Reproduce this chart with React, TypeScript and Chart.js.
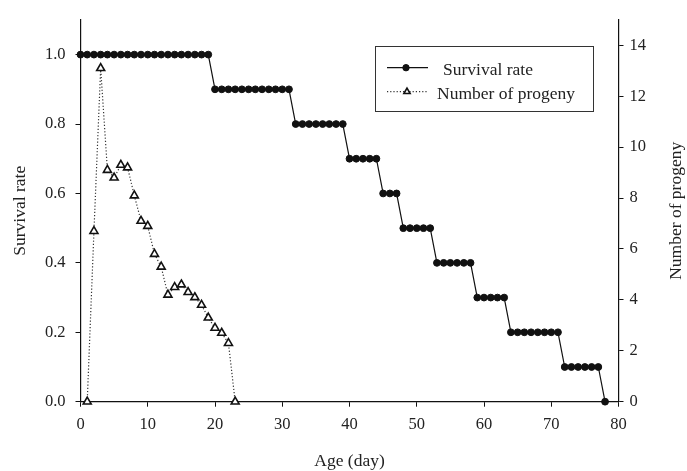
import React, { useEffect, useRef } from 'react';
import { Chart, registerables } from 'chart.js';

Chart.register(...registerables);

// ---- data ----
const survivalAges = [
  0, 1, 2, 3, 4, 5, 6, 7, 8, 9, 10, 11, 12, 13, 14, 15, 16, 17, 18, 19,
  20, 21, 22, 23, 24, 25, 26, 27, 28, 29, 30, 31, 32, 33, 34, 35, 36, 37, 38, 39,
  40, 41, 42, 43, 44, 45, 46, 47, 48, 49, 50, 51, 52, 53, 54, 55, 56, 57, 58, 59,
  60, 61, 62, 63, 64, 65, 66, 67, 68, 69, 70, 71, 72, 73, 74, 75, 76, 77, 78,
];
const survivalRate = [
  1, 1, 1, 1, 1, 1, 1, 1, 1, 1, 1, 1, 1, 1, 1, 1, 1, 1, 1, 1,
  0.9, 0.9, 0.9, 0.9, 0.9, 0.9, 0.9, 0.9, 0.9, 0.9, 0.9, 0.9,
  0.8, 0.8, 0.8, 0.8, 0.8, 0.8, 0.8, 0.8,
  0.7, 0.7, 0.7, 0.7, 0.7,
  0.6, 0.6, 0.6,
  0.5, 0.5, 0.5, 0.5, 0.5,
  0.4, 0.4, 0.4, 0.4, 0.4, 0.4,
  0.3, 0.3, 0.3, 0.3, 0.3,
  0.2, 0.2, 0.2, 0.2, 0.2, 0.2, 0.2, 0.2,
  0.1, 0.1, 0.1, 0.1, 0.1, 0.1,
  0,
];
const progenyAges = [1, 2, 3, 4, 5, 6, 7, 8, 9, 10, 11, 12, 13, 14, 15, 16, 17, 18, 19, 20, 21, 22, 23];
const progenyCount = [0, 6.7, 13.1, 9.1, 8.8, 9.3, 9.2, 8.1, 7.1, 6.9, 5.8, 5.3, 4.2, 4.5, 4.6, 4.3, 4.1, 3.8, 3.3, 2.9, 2.7, 2.3, 0];

const xAxisTitle = 'Age (day)';
const leftAxisTitle = 'Survival rate';
const rightAxisTitle = 'Number of progeny';
const survivalLabel = 'Survival rate';
const progenyLabel = 'Number of progeny';

const FONT = '"Liberation Serif", "Times New Roman", serif';
const TEXT = '#222';

const boxLegend = {
  id: 'boxLegend',
  afterDraw(chart: any, _args: any, opts: any) {
    const ctx = chart.ctx as CanvasRenderingContext2D;
    ctx.save();
    ctx.strokeStyle = '#333';
    ctx.lineWidth = 1;
    ctx.setLineDash([]);
    ctx.strokeRect(opts.x + 0.5, opts.y + 0.5, opts.w, opts.h);
    chart.data.datasets.forEach((ds: any, i: number) => {
      const it = opts.items[i];
      if (!it) return;
      ctx.beginPath();
      ctx.setLineDash(ds.borderDash || []);
      ctx.strokeStyle = ds.borderColor;
      ctx.lineWidth = ds.borderWidth;
      ctx.moveTo(it.lx1, it.ly);
      ctx.lineTo(it.lx2, it.ly);
      ctx.stroke();
      ctx.setLineDash([]);
      ctx.beginPath();
      if (ds.pointStyle === 'triangle') {
        const r = it.mr;
        ctx.moveTo(it.mx, it.ly - r);
        ctx.lineTo(it.mx + r * Math.sin((2 * Math.PI) / 3), it.ly - r * Math.cos((2 * Math.PI) / 3));
        ctx.lineTo(it.mx + r * Math.sin((4 * Math.PI) / 3), it.ly - r * Math.cos((4 * Math.PI) / 3));
        ctx.closePath();
      } else {
        ctx.arc(it.mx, it.ly, it.mr, 0, Math.PI * 2);
      }
      ctx.fillStyle = ds.pointBackgroundColor;
      ctx.fill();
      ctx.strokeStyle = ds.pointBorderColor;
      ctx.lineWidth = ds.pointBorderWidth;
      ctx.stroke();
      ctx.font = `17.5px ${FONT}`;
      ctx.fillStyle = TEXT;
      ctx.textBaseline = 'alphabetic';
      ctx.textAlign = 'left';
      ctx.fillText(ds.label, it.tx, it.ty);
    });

    // right axis title, reading bottom-to-top like the left one
    const area = chart.chartArea;
    ctx.save();
    ctx.translate(opts.rightTitleX, (area.top + area.bottom) / 2);
    ctx.rotate(-Math.PI / 2);
    ctx.font = `17.5px ${FONT}`;
    ctx.fillStyle = TEXT;
    ctx.textAlign = 'center';
    ctx.textBaseline = 'middle';
    ctx.fillText(opts.rightTitle, 0, 0);
    ctx.restore();

    ctx.restore();
  },
};

export default function App() {
  const ref = useRef<HTMLCanvasElement | null>(null);

  useEffect(() => {
    if (!ref.current) return;
    const chart = new Chart(ref.current, {
      type: 'line',
      data: {
        datasets: [
          {
            label: survivalLabel,
            data: survivalAges.map((a, i) => ({ x: a, y: survivalRate[i] })),
            yAxisID: 'y',
            borderColor: '#111',
            borderWidth: 1.2,
            pointStyle: 'circle',
            pointRadius: 3.4,
            pointBackgroundColor: '#111',
            pointBorderColor: '#111',
            pointBorderWidth: 1,
            tension: 0,
            clip: false,
          } as any,
          {
            label: progenyLabel,
            data: progenyAges.map((a, i) => ({ x: a, y: progenyCount[i] })),
            yAxisID: 'y1',
            borderColor: '#333',
            borderWidth: 1.2,
            borderDash: [1.2, 2],
            pointStyle: 'triangle',
            pointRadius: 4.6,
            pointBackgroundColor: '#fff',
            pointBorderColor: '#111',
            pointBorderWidth: 1.6,
            tension: 0,
            clip: false,
          } as any,
        ],
      },
      options: {
        responsive: true,
        maintainAspectRatio: false,
        animation: false,
        layout: { padding: { top: 16, left: 0, right: 0, bottom: 0 } },
        plugins: {
          legend: { display: false },
          tooltip: { enabled: false },
          boxLegend: {
            x: 375,
            y: 46,
            w: 218,
            h: 65,
            rightTitle: rightAxisTitle,
            rightTitleX: 676,
            items: [
              { lx1: 387, lx2: 428, ly: 67.7, mx: 406, mr: 3.2, tx: 443, ty: 74.5 },
              { lx1: 387, lx2: 428, ly: 91.7, mx: 407, mr: 3.6, tx: 437, ty: 98.5 },
            ],
          },
        } as any,
        scales: {
          x: {
            type: 'linear',
            min: 0,
            max: 80,
            afterFit: (s: any) => {
              s.height = 69.3;
            },
            ticks: {
              stepSize: 10,
              color: TEXT,
              font: { family: FONT, size: 16.5 },
              padding: 8,
              maxRotation: 0,
            },
            grid: { drawOnChartArea: false, drawTicks: true, tickLength: 5, color: '#111' },
            border: { display: true, color: '#111', width: 1.2 },
            title: {
              display: true,
              text: xAxisTitle,
              color: TEXT,
              font: { family: FONT, size: 17.5, lineHeight: 1 },
              padding: { top: 0, bottom: 0.5 },
            },
          },
          y: {
            type: 'linear',
            position: 'left',
            min: 0,
            max: 1.1,
            afterFit: (s: any) => {
              s.width = 80.5;
            },
            ticks: {
              stepSize: 0.2,
              includeBounds: false,
              color: TEXT,
              font: { family: FONT, size: 16.5 },
              padding: 10,
              callback: (v: any) => Number(v).toFixed(1),
            },
            grid: { drawOnChartArea: false, drawTicks: true, tickLength: 5, color: '#111' },
            border: { display: true, color: '#111', width: 1.2 },
            title: {
              display: true,
              text: leftAxisTitle,
              color: TEXT,
              font: { family: FONT, size: 17.5, lineHeight: 1 },
              padding: { top: 11.5, bottom: 0 },
            },
          },
          y1: {
            type: 'linear',
            position: 'right',
            min: 0,
            max: 15,
            afterFit: (s: any) => {
              s.width = 68.5;
            },
            ticks: {
              stepSize: 2,
              includeBounds: false,
              color: TEXT,
              font: { family: FONT, size: 16.5 },
              padding: 6,
              callback: (v: any) => String(v),
            },
            grid: { drawOnChartArea: false, drawTicks: true, tickLength: 5, color: '#111' },
            border: { display: true, color: '#111', width: 1.2 },
            title: { display: false },
          },
        },
      } as any,
      plugins: [boxLegend as any],
    });
    return () => chart.destroy();
  }, []);

  return (
    <div style={{ position: 'fixed', left: 0, top: 0, width: 687, height: 471, background: '#fff' }}>
      <canvas ref={ref} />
    </div>
  );
}
